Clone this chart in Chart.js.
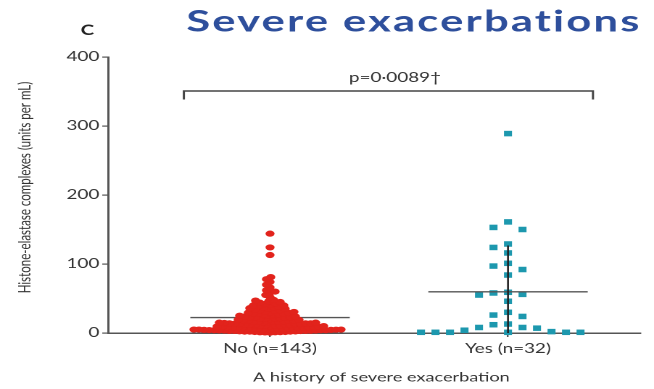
<!DOCTYPE html>
<html>
<head>
<meta charset="utf-8">
<script src="https://cdn.jsdelivr.net/npm/chart.js@4/dist/chart.umd.min.js"></script>
<style>
  html, body { margin: 0; padding: 0; background: #ffffff; overflow: hidden; }
  #wrap { width: 451px; height: 389px; transform: scaleX(1.4501); transform-origin: 0 0; }
</style>
</head>
<body>
<div id="wrap"><canvas id="c" width="451" height="389"></canvas></div>
<script>
// ---------- data ----------
const panelLetter = 'C';
const chartTitle = 'Severe exacerbations';
const categories = ['No (n=143)', 'Yes (n=32)'];
const xAxisTitle = 'A history of severe exacerbation';
const yAxisTitle = 'Histone-elastase complexes (units per mL)';
const yTicks = [0, 100, 200, 300, 400];
const pLabel = 'p=0\u00B70089\u2020';

const noValues = [
  0.5, 0.8, 1, 1, 1.2, 1.5, 1.5, 2, 2, 2, 2.3, 2.5, 2.8, 3, 3, 3, 3.2, 3.5, 3.5, 3.8,
  4, 4, 4, 4.2, 4.5, 4.5, 4.8, 5, 5, 5, 5.3, 5.5, 5.8, 6, 6, 6.2, 6.5, 6.8, 7, 7,
  7.3, 7.5, 7.8, 8, 8, 8.3, 8.5, 8.8, 9, 9,
  9.5, 10, 10, 10.5, 11, 11, 11, 11.5, 12, 12, 12, 12.5, 13, 13, 13, 13.5, 14, 14, 14, 14.5,
  15, 15, 15, 15.5, 16, 16, 16, 16.5, 17, 17.5, 18, 18, 18.5, 19, 19.5, 20,
  20.5, 21, 21, 21.5, 22, 22, 23, 23, 24, 24, 25, 25, 26, 26, 27,
  28, 28, 28.5, 29, 29.5, 30, 30.5, 31, 32,
  33, 33, 34, 35, 35, 36, 37, 37, 38, 39, 40, 40, 41, 42, 43, 44, 45, 46, 47, 48,
  52, 55, 58, 60, 62, 66, 70, 74, 78, 81,
  113, 124, 144
];
const yesValues = [
  1, 1, 1, 1, 1, 1, 2, 4, 7, 8, 8, 12, 13,
  24, 26, 30, 46, 55, 56, 58, 59,
  84, 92, 97, 101, 116, 124, 129,
  150, 153, 161, 289
];

// ---------- styles ----------
const RED = '#e2231c';
const TEAL = '#1d98ae';
const AXIS = '#555555';
const TEXT = '#333333';
const FONT = 'Lato, "Open Sans", sans-serif';

function mean(a) { return a.reduce((s, v) => s + v, 0) / a.length; }
function sd(a) { const m = mean(a); return Math.sqrt(a.reduce((s, v) => s + (v - m) * (v - m), 0) / (a.length - 1)); }

// beeswarm layout in pixel space (offsets from category centre)
function swarm(values, yScale, opt) {
  const items = values.map((v, i) => ({ v, i, y: yScale.getPixelForValue(v) }));
  items.sort((a, b) => opt.desc ? b.v - a.v : a.v - b.v);
  const placed = [];
  const xs = new Array(values.length).fill(0);
  for (const it of items) {
    for (let k = 0; k < 2000; k++) {
      const off = k === 0 ? 0 : (k % 2 ? -1 : 1) * Math.ceil(k / 2) * opt.step;
      let ok = true;
      for (const p of placed) {
        const dx = Math.abs(p.x - off), dy = Math.abs(p.y - it.y);
        if (opt.rect ? (dx < opt.dw - 1e-6 && dy < opt.dh) : (dx * dx + dy * dy < opt.d * opt.d - 1e-6)) { ok = false; break; }
      }
      if (ok) { placed.push({ x: off, y: it.y }); xs[it.i] = off; break; }
    }
  }
  return xs;
}

const groups = [
  { values: noValues, cat: 1, barsOnTop: false },
  { values: yesValues, cat: 2, barsOnTop: true }
];

function drawBars(chart, g) {
  const { ctx, scales: { x, y } } = chart;
  const m = mean(g.values), s = sd(g.values);
  const cx = x.getPixelForValue(g.cat);
  const hw = x.getPixelForValue(g.cat + 0.335) - cx;
  const ym = y.getPixelForValue(m);
  const yTop = y.getPixelForValue(m + s);
  const yBot = y.getPixelForValue(Math.max(0, m - s));
  ctx.save();
  ctx.strokeStyle = AXIS;
  ctx.lineWidth = 1.4;
  ctx.beginPath();
  ctx.moveTo(cx - hw, ym); ctx.lineTo(cx + hw, ym);
  ctx.stroke();
  ctx.strokeStyle = '#222222';
  ctx.lineWidth = 1.3;
  ctx.beginPath();
  ctx.moveTo(cx, yBot); ctx.lineTo(cx, yTop);
  ctx.stroke();
  ctx.restore();
}

const decor = {
  id: 'decor',
  beforeDatasetsDraw(chart) {
    groups.forEach(g => { if (!g.barsOnTop) drawBars(chart, g); });
  },
  afterDatasetsDraw(chart) {
    groups.forEach(g => { if (g.barsOnTop) drawBars(chart, g); });
  },
  afterDraw(chart) {
    const { ctx, scales: { x } } = chart;
    ctx.save();
    // title
    ctx.fillStyle = '#2e4f9c';
    ctx.font = 'bold 30px ' + FONT;
    ctx.textBaseline = 'alphabetic';
    ctx.textAlign = 'left';
    const target = 313;
    const w0 = ctx.measureText(chartTitle).width;
    const ls = (target - w0) / (chartTitle.length - 1);
    if ('letterSpacing' in ctx) ctx.letterSpacing = ls.toFixed(2) + 'px';
    ctx.fillText(chartTitle, 128.5, 31.5);
    if ('letterSpacing' in ctx) ctx.letterSpacing = '0px';
    // panel letter
    ctx.fillStyle = '#222222';
    ctx.font = 'bold 14px ' + FONT;
    ctx.textAlign = 'center';
    ctx.textBaseline = 'middle';
    ctx.fillText(panelLetter, 60.3, 30.5);
    // bracket + p value
    const xl = x.getPixelForValue(0.638), xr = x.getPixelForValue(2.357);
    ctx.strokeStyle = '#444444';
    ctx.lineWidth = 1.5;
    ctx.beginPath();
    ctx.moveTo(xl, 99.5); ctx.lineTo(xl, 91); ctx.lineTo(xr, 91); ctx.lineTo(xr, 99.5);
    ctx.stroke();
    ctx.fillStyle = TEXT;
    ctx.font = '13px ' + FONT;
    ctx.textAlign = 'center';
    ctx.textBaseline = 'middle';
    ctx.fillText(pLabel, 272.4, 78);
    // x axis title
    ctx.font = '12.5px ' + FONT;
    ctx.fillText(xAxisTitle, 263, 377.5);
    // y axis title
    ctx.translate(17.2, 187.5);
    ctx.rotate(-Math.PI / 2);
    ctx.font = '11.5px ' + FONT;
    ctx.fillText(yAxisTitle, 0, 0);
    ctx.restore();
  }
};

const chart = new Chart(document.getElementById('c'), {
  type: 'scatter',
  data: {
    datasets: [
      {
        label: categories[0],
        data: noValues.map(v => ({ x: 1, y: v })),
        backgroundColor: RED,
        borderWidth: 0,
        pointStyle: 'circle',
        pointRadius: 3.1,
        pointHoverRadius: 3.1,
        clip: false
      },
      {
        label: categories[1],
        data: yesValues.map(v => ({ x: 2, y: v })),
        backgroundColor: TEAL,
        borderWidth: 0,
        pointStyle: 'rect',
        pointRadius: 3.9,
        pointHoverRadius: 3.9,
        clip: false
      }
    ]
  },
  options: {
    responsive: false,
    animation: false,
    devicePixelRatio: 2,
    events: [],
    layout: { padding: { top: 57, right: 9.6, bottom: 0, left: 0 } },
    plugins: { legend: { display: false }, tooltip: { enabled: false }, title: { display: false } },
    scales: {
      x: {
        type: 'linear',
        min: 0.3193,
        max: 2.555,
        afterBuildTicks: s => { s.ticks = categories.map((_, i) => ({ value: i + 1 })); },
        afterFit: s => { s.height = 56; },
        ticks: {
          autoSkip: false,
          maxRotation: 0,
          padding: 4,
          color: TEXT,
          font: { family: FONT, size: 13 },
          callback: v => categories[Math.round(v) - 1] || ''
        },
        grid: { display: true, drawOnChartArea: false, drawTicks: true, tickLength: 4, color: AXIS, lineWidth: 1.2 },
        border: { display: true, color: AXIS, width: 1.5 }
      },
      y: {
        min: 0,
        max: 400,
        afterBuildTicks: s => { s.ticks = yTicks.map(v => ({ value: v })); },
        afterFit: s => { s.width = 74.5; },
        ticks: {
          padding: 2,
          color: TEXT,
          font: { family: FONT, size: 13 }
        },
        grid: { display: true, drawOnChartArea: false, drawTicks: true, tickLength: 4, color: AXIS, lineWidth: 1.2 },
        border: { display: true, color: AXIS, width: 1.5 }
      }
    }
  },
  plugins: [decor]
});

// arrange the points of each group as a swarm around its category
(function layoutSwarm() {
  const xs = chart.scales.x, ys = chart.scales.y;
  const unit = xs.getPixelForValue(2) - xs.getPixelForValue(1);
  const noOff = swarm(noValues, ys, { d: 3.5, step: 0.5 });
  const yesOff = swarm(yesValues, ys, { rect: true, dw: 10, dh: 8, step: 5, desc: true });
  chart.data.datasets[0].data = noValues.map((v, i) => ({ x: 1 + noOff[i] / unit, y: v }));
  chart.data.datasets[1].data = yesValues.map((v, i) => ({ x: 2 + yesOff[i] / unit, y: v }));
  chart.update('none');
})();
</script>
</body>
</html>
